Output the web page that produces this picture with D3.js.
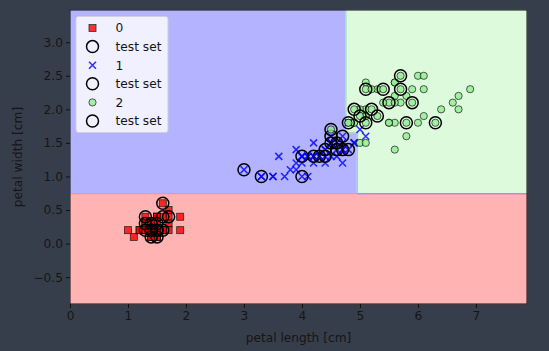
<!DOCTYPE html>
<meta charset="utf-8">
<script src="https://d3js.org/d3.v7.min.js"></script>
<style>
  body { margin: 0; background: #373e4b; }
  text { font-family: "DejaVu Sans", sans-serif; }
</style>
<body>
  <div id="my_dataviz"></div>
  <script>

    // Iris petal length / width, one list per class
    var setosa = [[1.4,0.2],[1.4,0.2],[1.3,0.2],[1.5,0.2],[1.4,0.2],[1.7,0.4],[1.4,0.3],[1.5,0.2],[1.4,0.2],[1.5,0.1],
                  [1.5,0.2],[1.6,0.2],[1.4,0.1],[1.1,0.1],[1.2,0.2],[1.5,0.4],[1.3,0.4],[1.4,0.3],[1.7,0.3],[1.5,0.3],
                  [1.7,0.2],[1.5,0.4],[1.0,0.2],[1.7,0.5],[1.9,0.2],[1.6,0.2],[1.6,0.4],[1.5,0.2],[1.4,0.2],[1.6,0.2],
                  [1.6,0.2],[1.5,0.4],[1.5,0.1],[1.4,0.2],[1.5,0.2],[1.2,0.2],[1.3,0.2],[1.4,0.1],[1.3,0.2],[1.5,0.2],
                  [1.3,0.3],[1.3,0.3],[1.3,0.2],[1.6,0.6],[1.9,0.4],[1.4,0.3],[1.6,0.2],[1.4,0.2],[1.5,0.2],[1.4,0.2]];
    var versicolor = [[4.7,1.4],[4.5,1.5],[4.9,1.5],[4.0,1.3],[4.6,1.5],[4.5,1.3],[4.7,1.6],[3.3,1.0],[4.6,1.3],[3.9,1.4],
                      [3.5,1.0],[4.2,1.5],[4.0,1.0],[4.7,1.4],[3.6,1.3],[4.4,1.4],[4.5,1.5],[4.1,1.0],[4.5,1.5],[3.9,1.1],
                      [4.8,1.8],[4.0,1.3],[4.9,1.5],[4.7,1.2],[4.3,1.3],[4.4,1.4],[4.8,1.4],[5.0,1.7],[4.5,1.5],[3.5,1.0],
                      [3.8,1.1],[3.7,1.0],[3.9,1.2],[5.1,1.6],[4.5,1.5],[4.5,1.6],[4.7,1.5],[4.4,1.3],[4.1,1.3],[4.0,1.3],
                      [4.4,1.2],[4.6,1.4],[4.0,1.2],[3.3,1.0],[4.2,1.3],[4.2,1.2],[4.2,1.3],[4.3,1.3],[3.0,1.1],[4.1,1.3]];
    var virginica = [[6.0,2.5],[5.1,1.9],[5.9,2.1],[5.6,1.8],[5.8,2.2],[6.6,2.1],[4.5,1.7],[6.3,1.8],[5.8,1.8],[6.1,2.5],
                     [5.1,2.0],[5.3,1.9],[5.5,2.1],[5.0,2.0],[5.1,2.4],[5.3,2.3],[5.5,1.8],[6.7,2.2],[6.9,2.3],[5.0,1.5],
                     [5.7,2.3],[4.9,2.0],[6.7,2.0],[4.9,1.8],[5.7,2.1],[6.0,1.8],[4.8,1.8],[4.9,1.8],[5.6,2.1],[5.8,1.6],
                     [6.1,1.9],[6.4,2.0],[5.6,2.2],[5.1,1.5],[5.6,1.4],[6.1,2.3],[5.6,2.4],[5.5,1.8],[4.8,1.8],[5.4,2.1],
                     [5.6,2.4],[5.1,2.3],[5.1,1.9],[5.9,2.3],[5.7,2.5],[5.2,2.3],[5.0,1.9],[5.2,2.0],[5.4,2.3],[5.1,1.8]];

    // Test set samples (highlighted with open circles)
    var testSetosa = [[1.3,0.4],[1.6,0.6],[1.7,0.4],[1.4,0.2],[1.5,0.2],[1.3,0.2],[1.4,0.3],[1.5,0.1],
                      [1.6,0.2],[1.4,0.1],[1.5,0.3],[1.3,0.3],[1.4,0.2],[1.5,0.2],[1.6,0.4]];
    var testVersicolor = [[3.0,1.1],[3.3,1.0],[4.0,1.0],[4.0,1.3],[4.2,1.3],[4.3,1.3],[4.4,1.4],[4.5,1.5],
                          [4.6,1.4],[4.7,1.4],[4.8,1.4],[4.7,1.6],[4.6,1.5],[4.5,1.6],[4.4,1.3]];
    var testVirginica = [[5.7,2.5],[5.1,2.3],[5.4,2.3],[5.7,2.3],[5.5,2.1],[5.9,2.1],[4.9,2.0],[5.2,2.0],
                         [5.3,1.9],[5.0,1.9],[4.8,1.8],[5.1,1.8],[5.8,1.8],[6.3,1.8],[4.5,1.7]];

    // Decision tree splits
    var widthSplit = 0.75, lengthSplitHigh = 4.75, lengthSplitLow = 4.95, widthSplit2 = 1.65;

    var xTicks = [0, 1, 2, 3, 4, 5, 6, 7];
    var yTicks = [-0.5, 0.0, 0.5, 1.0, 1.5, 2.0, 2.5, 3.0];
    var legendLabels = ["0", "test set", "1", "test set", "2", "test set"];

    var margin = {top: 10, right: 22, bottom: 47, left: 70},
        width = 549 - margin.left - margin.right,
        height = 351 - margin.top - margin.bottom;

    var svg = d3.select("#my_dataviz")
      .append("svg")
        .attr("width", 549)
        .attr("height", 351)
      .append("g")
        .attr("transform", "translate(" + margin.left + "," + margin.top + ")");

    var x = d3.scaleLinear().domain([0, 7.88]).range([0, width]);
    var y = d3.scaleLinear().domain([-0.9, 3.48]).range([height, 0]);

    // Decision regions as polygons
    var regions = [
      {c: "#ffb3b3", pts: [[0, -0.9], [7.88, -0.9], [7.88, widthSplit], [0, widthSplit]]},
      {c: "#b3b3ff", pts: [[0, widthSplit], [lengthSplitLow, widthSplit], [lengthSplitLow, widthSplit2],
                           [lengthSplitHigh, widthSplit2], [lengthSplitHigh, 3.48], [0, 3.48]]},
      {c: "#ddfadd", pts: [[lengthSplitLow, widthSplit], [7.88, widthSplit], [7.88, 3.48],
                           [lengthSplitHigh, 3.48], [lengthSplitHigh, widthSplit2], [lengthSplitLow, widthSplit2]]}
    ];
    var poly = d3.line().x(function(d) { return x(d[0]); }).y(function(d) { return y(d[1]); });
    svg.selectAll("path.region")
      .data(regions)
      .enter()
      .append("path")
        .attr("class", "region")
        .attr("d", function(d) { return poly(d.pts) + "Z"; })
        .attr("fill", function(d) { return d.c; })
        .attr("stroke", function(d) { return d.c; })
        .attr("stroke-width", 0.6);

    // region edges
    svg.append("line")
      .attr("x1", x(0)).attr("x2", x(lengthSplitLow))
      .attr("y1", y(widthSplit) + 0.5).attr("y2", y(widthSplit) + 0.5)
      .attr("stroke", "#ff8c9c").attr("stroke-width", 1);
    svg.append("line")
      .attr("x1", x(lengthSplitLow)).attr("x2", x(7.88))
      .attr("y1", y(widthSplit) + 0.5).attr("y2", y(widthSplit) + 0.5)
      .attr("stroke", "#c28ad0").attr("stroke-width", 1.5);
    svg.append("path")
      .attr("d", "M" + (x(lengthSplitHigh) + 0.5) + "," + y(3.48) +
                 "V" + y(widthSplit2) + "H" + (x(lengthSplitLow) + 0.5) + "V" + y(widthSplit))
      .attr("fill", "none").attr("stroke", "#90d8b8").attr("stroke-width", 1);

    // Axes
    var xAxis = svg.append("g")
      .attr("transform", "translate(0," + height + ")")
      .call(d3.axisBottom(x).tickValues(xTicks).tickSize(4).tickPadding(3).tickFormat(d3.format("d")));
    var yAxis = svg.append("g")
      .call(d3.axisLeft(y).tickValues(yTicks).tickSize(4).tickPadding(3)
        .tickFormat(function(d) { return d3.format(".1f")(d).replace("-", "\u2212"); }));
    [xAxis, yAxis].forEach(function(a) {
      a.select(".domain").remove();
      a.selectAll("line").attr("stroke", "#111");
      a.selectAll("text").attr("fill", "#151515").style("font-size", "12.2px").style("font-family", "DejaVu Sans");
    });

    // Scatter
    var layer = svg.append("g");
    function drawSquares(data) {
      layer.selectAll(null).data(data).enter().append("rect")
        .attr("x", function(d) { return x(d[0]) - 3.5; })
        .attr("y", function(d) { return y(d[1]) - 3.5; })
        .attr("width", 7).attr("height", 7)
        .attr("fill", "red").attr("stroke", "black").attr("stroke-width", 0.8)
        .attr("opacity", 0.8);
    }
    function drawCrosses(data) {
      layer.selectAll(null).data(data).enter().append("path")
        .attr("d", function(d) {
          var cx = x(d[0]), cy = y(d[1]), s = 3.5;
          return "M" + (cx - s) + "," + (cy - s) + "L" + (cx + s) + "," + (cy + s) +
                 "M" + (cx - s) + "," + (cy + s) + "L" + (cx + s) + "," + (cy - s);
        })
        .attr("stroke", "blue").attr("stroke-width", 1.6).attr("fill", "none")
        .attr("opacity", 0.8);
    }
    function drawDots(data) {
      layer.selectAll(null).data(data).enter().append("circle")
        .attr("cx", function(d) { return x(d[0]); })
        .attr("cy", function(d) { return y(d[1]); })
        .attr("r", 3.6)
        .attr("fill", "lightgreen").attr("stroke", "black").attr("stroke-width", 0.8)
        .attr("opacity", 0.8);
    }
    function drawTest(data) {
      layer.selectAll(null).data(data).enter().append("circle")
        .attr("cx", function(d) { return x(d[0]); })
        .attr("cy", function(d) { return y(d[1]); })
        .attr("r", 6)
        .attr("fill", "none").attr("stroke", "black").attr("stroke-width", 1.5);
    }
    drawSquares(setosa); drawTest(testSetosa);
    drawCrosses(versicolor); drawTest(testVersicolor);
    drawDots(virginica); drawTest(testVirginica);

    // Frame
    svg.append("rect")
      .attr("width", width).attr("height", height)
      .attr("fill", "none").attr("stroke", "#111").attr("stroke-width", 1);

    // Axis labels
    svg.append("text")
      .attr("x", width / 2).attr("y", height + 38)
      .attr("text-anchor", "middle")
      .attr("fill", "#151515").style("font-size", "12.2px")
      .text("petal length [cm]");
    svg.append("text")
      .attr("transform", "translate(" + (-48) + "," + (height / 2) + ") rotate(-90)")
      .attr("text-anchor", "middle")
      .attr("fill", "#151515").style("font-size", "12.2px")
      .text("petal width [cm]");

    // Legend
    var legend = svg.append("g").attr("transform", "translate(6,6.5)");
    legend.append("rect")
      .attr("width", 92).attr("height", 116).attr("rx", 2.5)
      .attr("fill", "#f0f0ff").attr("stroke", "#cfcfe0").attr("stroke-width", 1);
    var rows = legend.selectAll("g.row")
      .data(legendLabels)
      .enter()
      .append("g")
        .attr("class", "row")
        .attr("transform", function(d, i) { return "translate(16.5," + (11.5 + i * 18.6) + ")"; });
    rows.append("text")
      .attr("x", 23).attr("dy", "0.36em")
      .attr("fill", "#151515").style("font-size", "12.2px")
      .text(function(d) { return d; });
    rows.each(function(d, i) {
      var g = d3.select(this);
      if (i % 2 === 1) {
        g.append("circle").attr("r", 6).attr("fill", "none").attr("stroke", "black").attr("stroke-width", 1.5);
      } else if (i === 0) {
        g.append("rect").attr("x", -3.5).attr("y", -3.5).attr("width", 7).attr("height", 7)
          .attr("fill", "red").attr("stroke", "black").attr("stroke-width", 0.8).attr("opacity", 0.8);
      } else if (i === 2) {
        g.append("path").attr("d", "M-3.5,-3.5L3.5,3.5M-3.5,3.5L3.5,-3.5")
          .attr("stroke", "blue").attr("stroke-width", 1.6).attr("opacity", 0.8);
      } else {
        g.append("circle").attr("r", 3.6)
          .attr("fill", "lightgreen").attr("stroke", "black").attr("stroke-width", 0.8).attr("opacity", 0.8);
      }
    });

  </script>
</body>
